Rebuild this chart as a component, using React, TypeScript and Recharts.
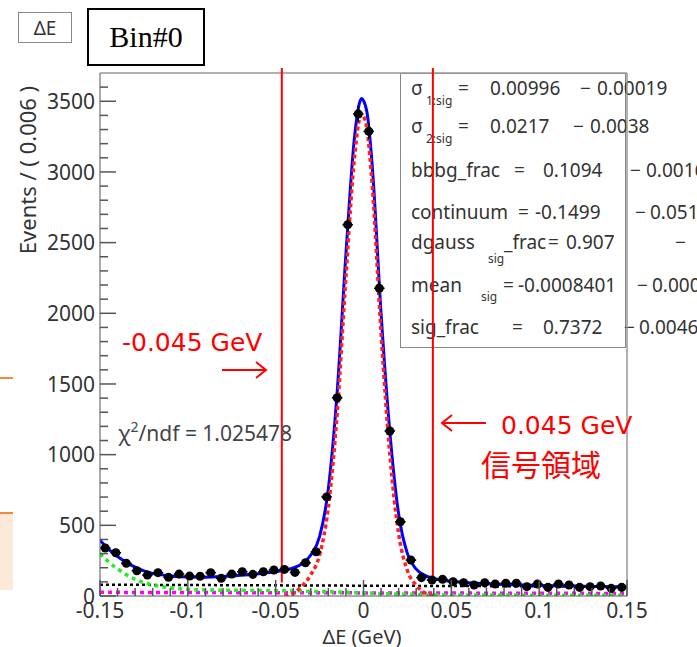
import React from 'react';
import { ComposedChart, Line, Scatter, ErrorBar, XAxis, YAxis, ReferenceLine } from 'recharts';

// measured ΔE histogram (bin width 0.006 GeV)
const binCenters = [
  -0.147, -0.141, -0.135, -0.129, -0.123, -0.117, -0.111, -0.105, -0.099, -0.093,
  -0.087, -0.081, -0.075, -0.069, -0.063, -0.057, -0.051, -0.045, -0.039, -0.033,
  -0.027, -0.021, -0.015, -0.009, -0.003, 0.003, 0.009, 0.015, 0.021, 0.027,
  0.033, 0.039, 0.045, 0.051, 0.057, 0.063, 0.069, 0.075, 0.081, 0.087,
  0.093, 0.099, 0.105, 0.111, 0.117, 0.123, 0.129, 0.135, 0.141, 0.147,
];
const eventCounts = [
  340, 306, 231, 179, 148, 165, 132, 155, 141, 140,
  165, 125, 155, 172, 153, 172, 184, 188, 167, 235,
  313, 701, 1403, 2627, 3410, 3287, 2177, 1167, 525, 254,
  130, 113, 118, 101, 94, 78, 94, 85, 90, 90,
  66, 85, 61, 85, 78, 61, 66, 71, 54, 61,
];
const binHalfWidth = 0.003;

// fit curves
const totalX = [-0.15, -0.145, -0.14, -0.135, -0.13, -0.125, -0.12, -0.11, -0.1, -0.09, -0.08, -0.07, -0.06, -0.05, -0.045, -0.04, -0.035, -0.03, -0.025, -0.02, -0.015, -0.01, -0.005, -0.002, -0.001, 0, 0.002, 0.005, 0.01, 0.015, 0.02, 0.025, 0.03, 0.035, 0.04, 0.045, 0.05, 0.06, 0.07, 0.08, 0.09, 0.1, 0.11, 0.12, 0.13, 0.14, 0.15];
const totalY = [395, 330, 280, 238, 204, 178, 160, 142, 134, 133, 138, 147, 158, 172, 182, 198, 228, 290, 420, 760, 1440, 2420, 3260, 3500, 3520, 3505, 3420, 3040, 2000, 1160, 580, 300, 190, 146, 124, 112, 104, 94, 87, 82, 78, 75, 72, 70, 68, 66, 64];

const sigX = [-0.045, -0.04, -0.035, -0.03, -0.025, -0.02, -0.015, -0.01, -0.005, -0.002, -0.001, 0, 0.002, 0.005, 0.01, 0.015, 0.02, 0.025, 0.03, 0.035, 0.04];
const sigY = [0, 20, 70, 150, 290, 630, 1290, 2260, 3120, 3390, 3410, 3395, 3300, 2900, 1860, 1000, 440, 180, 75, 22, 2];

const bbbgX = [-0.15, -0.145, -0.14, -0.135, -0.13, -0.125, -0.12, -0.11, -0.1, -0.09, -0.08, -0.06, -0.04, -0.02, 0, 0.02, 0.04, 0.06, 0.1, 0.15];
const bbbgY = [300, 240, 192, 150, 118, 95, 78, 58, 47, 43, 41, 39, 36, 30, 22, 14, 9, 7, 6, 5];

const contX = [-0.15, 0, 0.15];
const contY = [80, 73, 66];

const otherX = [-0.15, 0, 0.15];
const otherY = [26, 22, 18];

const xMajorTicks = [-0.15, -0.1, -0.05, 0, 0.05, 0.1, 0.15];
const yMajorTicks = [0, 500, 1000, 1500, 2000, 2500, 3000, 3500];

const xAllTicks = Array.from({ length: 31 }, (_, i) => Math.round((-0.15 + i * 0.01) * 1000) / 1000);
const yAllTicks = Array.from({ length: 37 }, (_, i) => i * 100);

const toPoints = (xs: number[], ys: number[]) => xs.map((x, i) => ({ x, y: ys[i] }));

const histPoints = binCenters.map((x, i) => ({
  x,
  y: eventCounts[i],
  ex: binHalfWidth,
  ey: Math.sqrt(eventCounts[i]),
}));

const axisFont = '"Noto Sans", sans-serif';
const axisColor = '#333';

const YTick = (props: any) => {
  const { x, y, payload } = props;
  const major = yMajorTicks.includes(payload.value);
  return (
    <g>
      <line x1={x} x2={x + (major ? 16 : 8)} y1={y} y2={y} stroke="#555" strokeWidth={1.5} />
      {major && (
        <text x={x - 5} y={y} dy="0.36em" textAnchor="end" fontSize={21} fontFamily={axisFont} fill={axisColor}>
          {payload.value}
        </text>
      )}
    </g>
  );
};

const XTick = (props: any) => {
  const { x, y, payload } = props;
  const major = xMajorTicks.some((t) => Math.abs(t - payload.value) < 1e-6);
  return (
    <g>
      <line x1={x} x2={x} y1={y} y2={y - (major ? 16 : 8)} stroke="#555" strokeWidth={1.5} />
      {major && (
        <text x={x} y={y + 22} textAnchor="middle" fontSize={21} fontFamily={axisFont} fill={axisColor}>
          {payload.value === 0 ? '0' : String(payload.value)}
        </text>
      )}
    </g>
  );
};

// fit-result box, each piece placed where it sits in the original
const statPieces: { x: number; y: number; t: string; s?: number }[] = [
  { x: 411, y: 88, t: 'σ' }, { x: 426, y: 101, t: '1:sig', s: 12 }, { x: 458, y: 88, t: '=' }, { x: 490, y: 88, t: '0.00996' }, { x: 580, y: 88, t: '−' }, { x: 597, y: 88, t: '0.00019' },
  { x: 411, y: 126, t: 'σ' }, { x: 426, y: 139, t: '2:sig', s: 12 }, { x: 458, y: 126, t: '=' }, { x: 490, y: 126, t: '0.0217' }, { x: 573, y: 126, t: '−' }, { x: 590, y: 126, t: '0.0038' },
  { x: 411, y: 170, t: 'bbbg_frac' }, { x: 514, y: 170, t: '=' }, { x: 543, y: 170, t: '0.1094' }, { x: 630, y: 170, t: '−' }, { x: 646, y: 170, t: '0.0016' },
  { x: 411, y: 212, t: 'continuum' }, { x: 518, y: 212, t: '=' }, { x: 535, y: 212, t: '-0.1499' }, { x: 635, y: 212, t: '−' }, { x: 650, y: 212, t: '0.0512' },
  { x: 411, y: 242, t: 'dgauss' }, { x: 488, y: 259, t: 'sig', s: 12 }, { x: 504, y: 242, t: '_frac' }, { x: 548, y: 242, t: '=' }, { x: 566, y: 242, t: '0.907' }, { x: 675, y: 242, t: '−' },
  { x: 411, y: 285, t: 'mean' }, { x: 481, y: 297, t: 'sig', s: 12 }, { x: 503, y: 285, t: '=' }, { x: 518, y: 285, t: '-0.0008401' }, { x: 637, y: 285, t: '−' }, { x: 652, y: 285, t: '0.0002' },
  { x: 411, y: 327, t: 'sig_frac' }, { x: 512, y: 327, t: '=' }, { x: 543, y: 327, t: '0.7372' }, { x: 624, y: 327, t: '−' }, { x: 639, y: 327, t: '0.0046' },
];

const redFont = '"DejaVu Sans", "Noto Sans CJK JP", sans-serif';

export default function App() {
  return (
    <div style={{ position: 'absolute', left: 0, top: 0, width: 697, height: 647, overflow: 'hidden', background: '#fff', fontFamily: axisFont }}>
      {/* stat box (drawn under the chart so the red line crosses it) */}
      <div style={{ position: 'absolute', left: 400, top: 73, width: 224, height: 273, border: '1px solid #888' }} />
      {statPieces.map((p, i) => (
        <div key={i} style={{ position: 'absolute', left: p.x, top: p.y, transform: 'translateY(-50%)', fontSize: p.s ?? 19, color: '#333', lineHeight: 1, whiteSpace: 'nowrap' }}>
          {p.t}
        </div>
      ))}

      <div style={{ position: 'absolute', left: 0, top: 0 }}>
        <ComposedChart width={697} height={647} margin={{ top: 73, right: 70, bottom: 21, left: 40 }}>
          <XAxis
            type="number"
            dataKey="x"
            domain={[-0.15, 0.15]}
            ticks={xAllTicks}
            interval={0}
            tick={<XTick />}
            tickSize={0}
            tickMargin={0}
            height={30}
            stroke="#555"
            allowDataOverflow
          />
          <YAxis
            type="number"
            dataKey="y"
            domain={[0, 3700]}
            ticks={yAllTicks}
            interval={0}
            tick={<YTick />}
            tickSize={0}
            tickMargin={0}
            width={60}
            stroke="#555"
            allowDataOverflow
          />
          <ReferenceLine y={3700} stroke="#999" strokeWidth={1.5} />
          <ReferenceLine x={0.15} stroke="#999" strokeWidth={1.5} />

          <Line data={toPoints(contX, contY)} dataKey="y" type="linear" stroke="#000" strokeWidth={2.5} strokeDasharray="3 3" dot={false} isAnimationActive={false} />
          <Line data={toPoints(otherX, otherY)} dataKey="y" type="linear" stroke="#ff00ff" strokeWidth={3.5} strokeDasharray="4 4" dot={false} isAnimationActive={false} />
          <Line data={toPoints(bbbgX, bbbgY)} dataKey="y" type="monotone" stroke="#22ee22" strokeWidth={3.5} strokeDasharray="4 4" dot={false} isAnimationActive={false} />
          <Line data={toPoints(totalX, totalY)} dataKey="y" type="monotone" stroke="#0000ff" strokeWidth={3} dot={false} isAnimationActive={false} />
          <Line data={toPoints(sigX, sigY)} dataKey="y" type="monotone" stroke="#ff2020" strokeWidth={3.5} strokeDasharray="4 3" dot={false} isAnimationActive={false} />
          <Scatter data={histPoints} dataKey="y" fill="#000" shape="circle" isAnimationActive={false}>
            <ErrorBar dataKey="ex" direction="x" width={0} stroke="#000" strokeWidth={1.5} />
            <ErrorBar dataKey="ey" direction="y" width={0} stroke="#000" strokeWidth={1.5} />
          </Scatter>

          <ReferenceLine segment={[{ x: -0.0465, y: 95 }, { x: -0.0465, y: 3735 }]} stroke="#ff0000" strokeWidth={2} ifOverflow="visible" />
          <ReferenceLine segment={[{ x: 0.0395, y: 95 }, { x: 0.0395, y: 3735 }]} stroke="#ff0000" strokeWidth={2} ifOverflow="visible" />
        </ComposedChart>
      </div>

      <svg width={697} height={647} style={{ position: 'absolute', left: 0, top: 0, pointerEvents: 'none' }}>
        {/* axis titles */}
        <text x={27} y={170} transform="rotate(-90 27 170)" textAnchor="middle" dominantBaseline="central" fontSize={22} fontFamily={axisFont} fill={axisColor}>
          Events / ( 0.006 )
        </text>
        <text x={362} y={636} textAnchor="middle" dominantBaseline="central" fontSize={20} fontFamily={axisFont} fill={axisColor}>
          ΔE (GeV)
        </text>
        <text x={118} y={433} dominantBaseline="central" fontSize={21} fontFamily={axisFont} fill="#444">
          χ<tspan dy={-7} fontSize={14}>2</tspan><tspan dy={7}>/ndf = 1.025478</tspan>
        </text>

        {/* signal window annotations */}
        <text x={122} y={342} dominantBaseline="central" fontSize={25} fontFamily={redFont} fill="#ff0000">-0.045 GeV</text>
        <g stroke="#ff0000" strokeWidth={2} fill="none">
          <line x1={222} y1={370} x2={266} y2={370} />
          <polyline points="256,362 266,370 256,378" />
          <line x1={442} y1={423} x2={486} y2={423} />
          <polyline points="452,415 442,423 452,431" />
        </g>
        <text x={501} y={425} dominantBaseline="central" fontSize={25} fontFamily={redFont} fill="#ff0000">0.045 GeV</text>
        <text x={481} y={463} dominantBaseline="central" fontSize={30} fontFamily='"Noto Sans CJK JP", sans-serif' fill="#ff0000">信号領域</text>

        {/* slide fragments at the left edge */}
        <rect x={0} y={513} width={13} height={77} fill="#fde9d9" />
        <line x1={0} x2={13} y1={378} y2={378} stroke="#f08a3c" strokeWidth={2} />
        <line x1={0} x2={13} y1={513} y2={513} stroke="#f08a3c" strokeWidth={2} />
      </svg>

      {/* title boxes */}
      <div style={{ position: 'absolute', left: 18, top: 12, width: 52, height: 29, border: '1px solid #888', display: 'flex', alignItems: 'center', justifyContent: 'center', fontSize: 19, color: '#333' }}>
        ΔE
      </div>
      <div style={{ position: 'absolute', left: 87, top: 8, width: 114, height: 54, border: '2px solid #000', display: 'flex', alignItems: 'center', justifyContent: 'center', fontSize: 30, fontFamily: '"Liberation Serif", serif', color: '#000' }}>
        Bin#0
      </div>
    </div>
  );
}
